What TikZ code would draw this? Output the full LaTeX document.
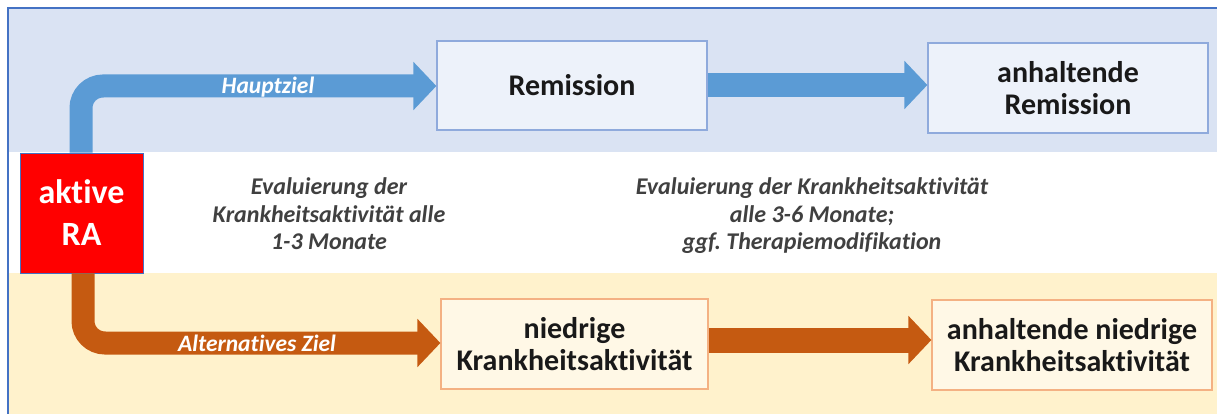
\documentclass[tikz,border=0pt]{standalone}
\usepackage{fontspec}
\setmainfont{Carlito}[Ligatures=NoCommon]
\usetikzlibrary{arrows.meta}
\frenchspacing
\definecolor{bandblue}{HTML}{DAE3F3}
\definecolor{bandbeige}{HTML}{FFF2CC}
\definecolor{framecol}{HTML}{4472C4}
\definecolor{arrblue}{HTML}{5B9BD5}
\definecolor{arrorange}{HTML}{C55A11}
\definecolor{boxblue}{HTML}{EDF2FA}
\definecolor{boxblueline}{HTML}{8FAADC}
\definecolor{boxbeige}{HTML}{FFF8E6}
\definecolor{boxbeigeline}{HTML}{F4B183}
\definecolor{midtext}{HTML}{404040}
\tikzset{
  goalbox/.style={draw=boxblueline, fill=boxblue, line width=1.2pt, inner sep=0pt, align=center,
    font=\fontsize{30}{32}\selectfont\bfseries, text=black!90},
  altbox/.style={draw=boxbeigeline, fill=boxbeige, line width=1.2pt, inner sep=0pt, align=center,
    font=\fontsize{30}{32}\selectfont\bfseries, text=black!90},
  bluearr/.style={draw=arrblue, line width=23pt, rounded corners=22pt,
    -{Triangle[width=47pt,length=23pt]}},
  orangearr/.style={draw=arrorange, line width=23pt, rounded corners=22pt,
    -{Triangle[width=47pt,length=23pt]}},
  arrlabel/.style={text=white, font=\fontsize{23.5}{26}\selectfont\bfseries\itshape},
  midnote/.style={text=midtext, align=center, font=\fontsize{24}{27.5}\selectfont\bfseries\itshape}
}
\begin{document}
\begin{tikzpicture}[x=1pt,y=-1pt]
\useasboundingbox (0,0) rectangle (1217,414);
% bands
\fill[bandblue] (8,8) rectangle (1217,152);
\fill[white] (8,152) rectangle (1217,273);
\fill[bandbeige] (8,273) rectangle (1217,414);
\draw[framecol, line width=1.8pt] (8,414) -- (8,8) -- (1217,8);
% nodes
\node[draw=framecol, line width=0.8pt, fill=red, minimum width=123pt, minimum height=120pt, inner sep=0pt,
  align=center, text=white, font=\fontsize{34}{42}\selectfont\bfseries] (ra) at (81.5,213) {aktive\\RA};
\node[goalbox, minimum width=270pt, minimum height=89pt] (rem) at (572,85.5) {Remission};
\node[goalbox, minimum width=280pt, minimum height=90pt] (arem) at (1068,88) {anhaltende\\Remission};
\node[altbox, minimum width=267pt, minimum height=90pt] (nied) at (574.5,344) {niedrige\\Krankheitsaktivität};
\node[altbox, minimum width=280pt, minimum height=90pt] (anied) at (1072,345) {anhaltende niedrige\\Krankheitsaktivität};
% arrows
\coordinate (b0) at (ra.north -| 81,0);
\coordinate (o0) at (ra.south -| 83,0);
\draw[bluearr] (b0) |- (rem.west |- 0,86);
\draw[orangearr] (o0) |- (nied.west |- 0,343);
\draw[draw=arrblue, line width=24pt, -{Triangle[width=47pt,length=23pt]}] (rem.east |- 0,85) -- (arem.west |- 0,85);
\draw[draw=arrorange, line width=25pt, -{Triangle[width=47pt,length=23pt]}] (nied.east |- 0,340) -- (anied.west |- 0,340);
% labels
\node[arrlabel] (hz) at (268,87) {Hauptziel};
\node[arrlabel] (az) at (257,343) {Alternatives Ziel};
\node[midnote] (n1) at (329,214) {Evaluierung der\\Krankheitsaktivität alle\\1-3 Monate};
\node[midnote] (n2) at (812,216) {Evaluierung der Krankheitsaktivität\\alle 3-6 Monate;\\ggf. Therapiemodifikation};
\end{tikzpicture}
\end{document}
